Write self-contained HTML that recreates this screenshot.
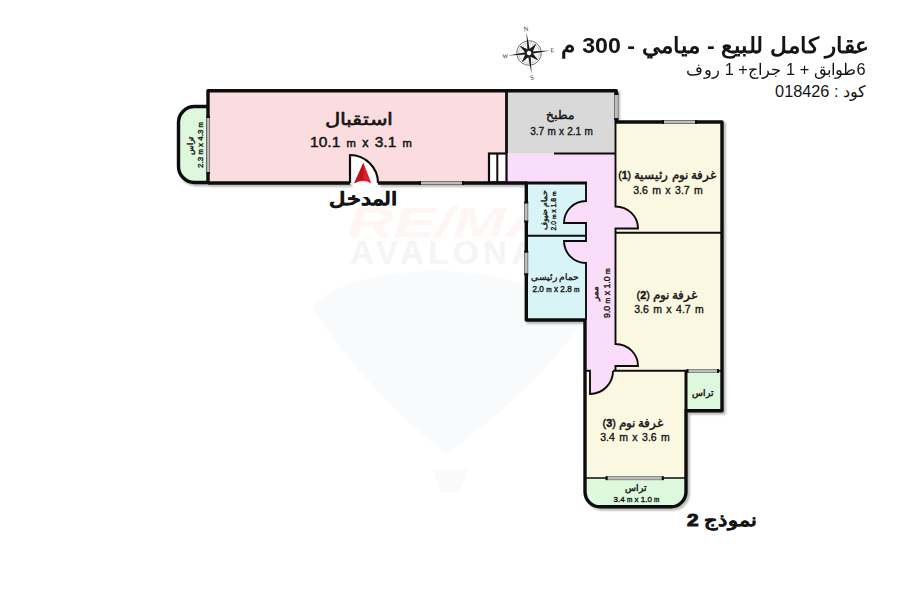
<!DOCTYPE html>
<html><head><meta charset="utf-8">
<style>
html,body{margin:0;padding:0;background:#fff;width:900px;height:600px;overflow:hidden;font-family:"Liberation Sans",sans-serif;color:#151515}
.t{position:absolute;white-space:nowrap;line-height:1;text-align:center}
.r{direction:rtl}
.m{font-size:80%}
.sb{-webkit-text-stroke:0.35px #151515}
.sn{-webkit-text-stroke:0.45px #151515}
svg{position:absolute;left:0;top:0}
</style></head><body>
<svg width="900" height="600" viewBox="0 0 900 600">
  <defs>
    <filter id="sh" x="-10%" y="-10%" width="120%" height="120%">
      <feGaussianBlur in="SourceAlpha" stdDeviation="1.3"/>
      <feOffset dx="2" dy="2.2" result="o"/>
      <feComponentTransfer><feFuncA type="linear" slope="0.3"/></feComponentTransfer>
    </filter>
  </defs>
  <!-- watermark -->
  <g>
    <path d="M312 308 C345 262 530 250 580 325 Q530 395 446 453 Q370 395 312 308 Z" fill="#f9fafb"/>
    <path d="M433 470 H468 L460 492 H441 Z" fill="#f9fafb"/>
    <text x="348" y="237" font-size="43" font-weight="bold" font-style="italic" fill="#fef5f5" font-family="Liberation Sans" textLength="245" lengthAdjust="spacingAndGlyphs">RE/MAX</text>
    <text x="350" y="264" font-size="33" font-weight="bold" fill="#f4f5f7" font-family="Liberation Sans" letter-spacing="4.5">AVALONA</text>
  </g>
  <!-- outer wall shadow -->
  <g filter="url(#sh)" fill="none" stroke="#000" stroke-width="3.4">
    <path d="M208 106.5 H194.5 A16 16 0 0 0 178.5 122.5 V166.5 A16 16 0 0 0 194.5 182.5 H208"/>
    <path d="M208 184 V90.7 H616.2 V122 H722 V410.7 H686 V491.8 A15 15 0 0 1 671 506.8 H600 A15 15 0 0 1 585 491.8 V320 H526.3 V183 H378"/>
    <path d="M350 183 H208"/>
  </g>
  <!-- room fills -->
  <rect x="208" y="90.7" width="299" height="92.3" fill="#FBDDE0"/>
  <rect x="507" y="90.7" width="109" height="63" fill="#D9D9D9"/>
  <path d="M507 153.5 H616 V371 H586 V183 H507 Z" fill="#FADDF8"/>
  <rect x="616" y="122" width="106" height="249" fill="#FBF8E1"/>
  <rect x="585" y="371" width="101" height="107" fill="#FBF8E1"/>
  <rect x="526.3" y="183" width="59.7" height="137" fill="#D8F4F7"/>
  <path d="M208 106.5 H194.5 A16 16 0 0 0 178.5 122.5 V166.5 A16 16 0 0 0 194.5 182.5 H208 Z" fill="#DDF8DD"/>
  <rect x="686" y="371" width="36" height="39.7" fill="#DDF8DD"/>
  <path d="M585 478 H686 V491.8 A15 15 0 0 1 671 506.8 H600 A15 15 0 0 1 585 491.8 Z" fill="#DDF8DD"/>

  <!-- door swings fill -->
  <g fill="#FADDF8">
    <path d="M586 201 A22 22 0 0 0 564 223 H586 Z"/>
    <path d="M564 241 A22 22 0 0 0 586 263 V241 Z"/>
    <path d="M616 206.5 A22 22 0 0 1 638 228.5 H616 Z"/>
    <path d="M616 344 A22 22 0 0 1 638 366 H616 Z"/>
    <path d="M613 371 A23 23 0 0 1 590 394 V371 Z"/>
  </g>
  <path d="M350 155 A28 28 0 0 1 378 183 H350 Z" fill="#fff"/>

  <!-- interior walls (thin) -->
  <g fill="none" stroke="#0d0d0d" stroke-width="1.9">
    <path d="M586 183 V201 A22 22 0 0 0 564 223 H586 V241 H564 A22 22 0 0 0 586 263 V320"/>
    <path d="M526 235.8 H586"/>
    <path d="M615.5 122 V206.5 A22.5 22 0 0 1 638 228.5 H615.5 V344 A22.5 22 0 0 1 638 366 H615.5 V371"/>
    <path d="M615.5 232.8 H722"/>
    <path d="M585 370.8 H590 V394 A23 23 0 0 0 613 371 M613 370.8 H686"/>
    <path d="M554 153.5 H616"/>
    <path d="M686 371 V411" stroke-width="3"/>
    <path d="M525 183 H587" stroke-width="2.8"/>
    <path d="M350 183 V155 A28 28 0 0 1 378 183" stroke-width="2.2"/>
  </g>
  <path d="M506.5 90.7 V153" fill="none" stroke="#0d0d0d" stroke-width="2.8"/>
  <!-- pillars -->
  <rect x="489" y="153.5" width="17.5" height="29" fill="#fff" stroke="#0d0d0d" stroke-width="2.2"/>
  <path d="M497.3 153.5 V183" stroke="#0d0d0d" stroke-width="2"/>

  <!-- outer walls -->
  <g fill="none" stroke="#0d0d0d" stroke-width="3.4" stroke-linejoin="round">
    <path d="M208 106.5 H194.5 A16 16 0 0 0 178.5 122.5 V166.5 A16 16 0 0 0 194.5 182.5 H208"/>
    <path d="M208 184 V90.7 H616.2 V122 H722 V410.7 H686 V491.8 A15 15 0 0 1 671 506.8 H600 A15 15 0 0 1 585 491.8 V320 H526.3 V183 H378"/>
    <path d="M350 183 H208"/>
  </g>
  <!-- windows -->
  <path d="M585 478 H686" stroke="#0d0d0d" stroke-width="1.6"/>
  <path d="M686 370.8 H722" stroke="#0d0d0d" stroke-width="1.6"/>
  <g fill="#bdbdbd" stroke="#6a6a6a" stroke-width="0.7">
    <rect x="206.8" y="117" width="2.9" height="56"/>
    <rect x="420" y="181.4" width="43" height="3.2"/>
    <rect x="614.6" y="94" width="3.6" height="25"/>
    <rect x="663" y="120.4" width="33" height="3.2"/>
    <rect x="524.6" y="202.5" width="3.3" height="19"/>
    <rect x="524.6" y="251.7" width="3.3" height="22.5"/>
    <rect x="687.5" y="369.4" width="30.5" height="3.2"/>
    <rect x="606.7" y="476.6" width="56" height="3.2"/>
  </g>
  <g fill="#0d0d0d">
    <rect x="206.5" y="115.8" width="3.5" height="2.2"/><rect x="206.5" y="172" width="3.5" height="2.2"/>
    <rect x="418.8" y="181.1" width="2.2" height="3.8000000000000003"/><rect x="462" y="181.1" width="2.2" height="3.8000000000000003"/>
    <rect x="614.3000000000001" y="92.8" width="4.2" height="2.2"/><rect x="614.3000000000001" y="118" width="4.2" height="2.2"/>
    <rect x="661.8" y="120.10000000000001" width="2.2" height="3.8000000000000003"/><rect x="695" y="120.10000000000001" width="2.2" height="3.8000000000000003"/>
    <rect x="524.3000000000001" y="201.3" width="3.9" height="2.2"/><rect x="524.3000000000001" y="220.5" width="3.9" height="2.2"/>
    <rect x="524.3000000000001" y="250.5" width="3.9" height="2.2"/><rect x="524.3000000000001" y="273.2" width="3.9" height="2.2"/>
    <rect x="686.3" y="369.09999999999997" width="2.2" height="3.8000000000000003"/><rect x="717.0" y="369.09999999999997" width="2.2" height="3.8000000000000003"/>
    <rect x="605.5" y="476.3" width="2.2" height="3.8000000000000003"/><rect x="661.7" y="476.3" width="2.2" height="3.8000000000000003"/>
  </g>
  <!-- entrance arrow -->
  <path d="M363.4 162.8 L371.3 183.3 Q363.4 178.5 354.2 183.3 Z" fill="#e01f29"/><path d="M363.4 162.8 L354.2 183.3 Q359 180.2 363.6 179.3 L363.6 162.8 Z" fill="#bd141c"/>
  <!-- compass -->
  <g transform="translate(529 53) rotate(-7)" fill="#1a1a1a" stroke="none">
    <circle r="12.3" fill="none" stroke="#666" stroke-width="0.9"/>
    <circle r="10.3" fill="none" stroke="#888" stroke-width="0.5"/>
    <circle r="8.3" fill="none" stroke="#999" stroke-width="0.9" stroke-dasharray="0.8 1.6"/>
    <path d="M0 -21 L1.3 -2 L0 0 L-1.3 -2 Z M0 21 L1.3 2 L0 0 L-1.3 2 Z M-21 0 L-2 1.3 L0 0 L-2 -1.3 Z M21 0 L2 1.3 L0 0 L2 -1.3 Z"/>
    <path d="M-8.5 -8.5 L0.5 -3 L-3 0.5 Z M8.5 8.5 L-0.5 3 L3 -0.5 Z M8.5 -8.5 L3 0.5 L-0.5 -3 Z M-8.5 8.5 L-3 -0.5 L0.5 3 Z"/>
    <circle r="2.6" fill="#fff" stroke="#1a1a1a" stroke-width="0.7"/>
    <text x="0" y="-22" font-size="6.5" text-anchor="middle" font-family="Liberation Serif">N</text>
    <text x="0" y="27" font-size="6.5" text-anchor="middle" font-family="Liberation Serif">S</text>
    <text x="23.5" y="2.2" font-size="6" text-anchor="middle" font-family="Liberation Serif">E</text>
    <text x="-24" y="2.2" font-size="6" text-anchor="middle" font-family="Liberation Serif">W</text>
  </g>
</svg>

<!-- header -->
<div id="h1" class="t r" style="right:30.5px;top:35px;font-size:22px;font-weight:bold;text-align:right;transform:scaleX(1.055);transform-origin:right">عقار كامل للبيع - ميامي - 300 م</div>
<div id="h2" class="t r" style="right:34px;top:61.5px;font-size:16px;text-align:right;transform:scaleX(1.02);transform-origin:right">6طوابق + 1 جراج+ 1 روف</div>
<div id="h3" class="t r" style="right:34px;top:82.5px;font-size:16.3px;text-align:right">كود : 018426</div>

<!-- labels -->
<div id="recn" class="t r" style="left:359px;top:110.8px;font-size:16.5px;-webkit-text-stroke:0.6px #151515;transform:translateX(-50%) scaleX(1.24)">استقبال</div>
<div id="recd" class="t" style="left:361px;top:134px;font-size:15.5px;word-spacing:2px;-webkit-text-stroke:0.5px #151515;transform:translateX(-50%)">10.1 <span style="font-size:72%">m</span> <span style="font-size:80%">x</span> 3.1 <span style="font-size:72%">m</span></div>
<div id="kitn" class="t r sn" style="left:559.5px;top:109px;font-size:12px;transform:translateX(-50%)">مطبخ</div>
<div id="kitd" class="t sb" style="left:561.5px;top:126.7px;font-size:10px;word-spacing:0.5px;transform:translateX(-50%)">3.7 m x 2.1 m</div>
<div id="b1n" class="t r sn" style="left:667px;top:169px;font-size:11.7px;transform:translateX(-50%)">غرفة نوم رئيسية <span style="font-size:90%;position:relative;top:-0.3px">(<b>1</b>)</span></div>
<div id="b1d" class="t sb" style="left:668px;top:184.5px;font-size:10.5px;word-spacing:1.5px;transform:translateX(-50%)">3.6 m x 3.7 m</div>
<div id="b2n" class="t r sn" style="left:667px;top:289px;font-size:12px;transform:translateX(-50%)">غرفة نوم <span style="font-size:90%;position:relative;top:-0.3px">(<b>2</b>)</span></div>
<div id="b2d" class="t sb" style="left:669px;top:303.5px;font-size:10.5px;word-spacing:1.5px;transform:translateX(-50%)">3.6 m x 4.7 m</div>
<div id="b3n" class="t r sn" style="left:633px;top:417px;font-size:12px;transform:translateX(-50%)">غرفة نوم <span style="font-size:90%;position:relative;top:-0.3px">(<b>3</b>)</span></div>
<div id="b3d" class="t sb" style="left:635px;top:431.5px;font-size:10.5px;word-spacing:1.5px;transform:translateX(-50%)">3.4 m x 3.6 m</div>
<div id="mbn" class="t r sb" style="left:555px;top:273px;font-size:9px;transform:translateX(-50%)">حمام رئيسى</div>
<div id="mbd" class="t sb" style="left:556px;top:285.5px;font-size:8.2px;transform:translateX(-50%)">2.0 <span class="m">m</span> x 2.8 <span class="m">m</span></div>
<div id="tbn" class="t r sn" style="left:635.5px;top:483.5px;font-size:8.5px;transform:translateX(-50%)">تراس</div>
<div id="tbd" class="t sb" style="left:636.5px;top:496px;font-size:8px;transform:translateX(-50%)">3.4 <span class="m">m</span> x 1.0 <span class="m">m</span></div>
<div id="tsn" class="t r sn" style="left:702.5px;top:388.5px;font-size:8.5px;transform:translateX(-50%)">تراس</div>
<div id="gbn" class="t r sb" style="left:545px;top:209.5px;font-size:8.2px;transform:translate(-50%,-50%) rotate(-90deg)">حمام ضيوف</div>
<div id="gbd" class="t sb" style="left:553.5px;top:210.5px;font-size:6.8px;transform:translate(-50%,-50%) rotate(-90deg)">2.0 <span class="m">m</span> x 1.8 <span class="m">m</span></div>
<div id="cn" class="t r sn" style="left:595.5px;top:292.5px;font-size:9.2px;transform:translate(-50%,-50%) rotate(-90deg)">ممر</div>
<div id="cd" class="t sb" style="left:606.5px;top:292.5px;font-size:8.7px;transform:translate(-50%,-50%) rotate(-90deg)">9.0 <span class="m">m</span> x 1.0 <span class="m">m</span></div>
<div id="tln" class="t r sn" style="left:191px;top:146px;font-size:8.2px;transform:translate(-50%,-50%) rotate(-90deg)">تراس</div>
<div id="tld" class="t sb" style="left:201px;top:145px;font-size:8px;transform:translate(-50%,-50%) rotate(-90deg)">2.3 <span class="m">m</span> x 4.3 <span class="m">m</span></div>
<div id="ent" class="t r" style="left:363px;top:190.5px;font-size:17.5px;font-weight:bold;-webkit-text-stroke:0.4px #151515;transform:translateX(-50%) scaleX(1.25)">المدخل</div>
<div id="mod" class="t r" style="left:722px;top:512px;font-size:17px;font-weight:bold;-webkit-text-stroke:0.3px #151515;transform:translateX(-50%) scaleX(1.22)">نموذج <span style="-webkit-text-stroke:1px #151515">2</span></div>
</body></html>
